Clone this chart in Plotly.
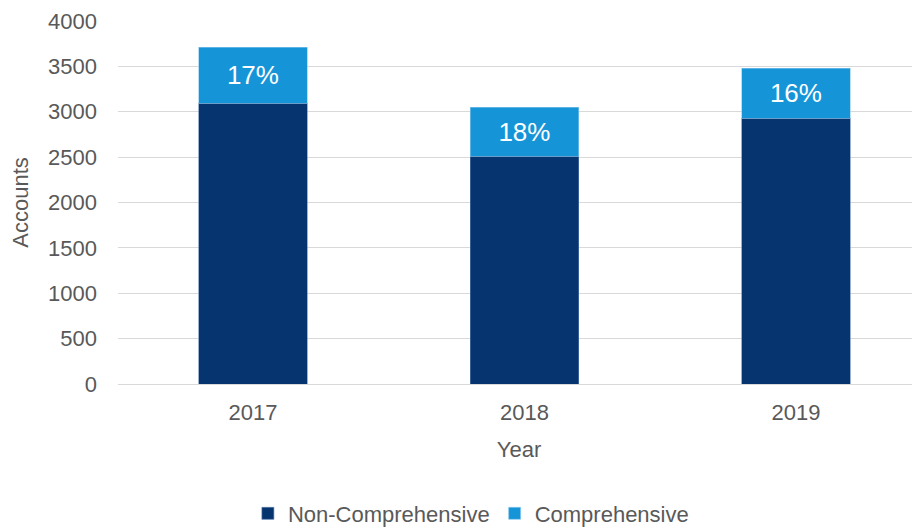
import plotly.graph_objects as go

years = ["2017", "2018", "2019"]
non_comprehensive = [3096, 2512, 2931]
comprehensive = [617, 540, 551]
pct_labels = ["17%", "18%", "16%"]

font_family = "Liberation Sans, Arial, sans-serif"
grey = "#595959"

fig = go.Figure()
fig.add_trace(go.Bar(
    x=years, y=non_comprehensive, name="Non-Comprehensive",
    marker=dict(color="#06346F", line=dict(color="#5a7fb0", width=0.6)),
    width=0.4,
))
fig.add_trace(go.Bar(
    x=years, y=comprehensive, name="Comprehensive",
    marker=dict(color="#1595D8", line=dict(color="#8cc8ec", width=0.6)),
    width=0.4,
    text=pct_labels, textposition="inside", insidetextanchor="middle",
    textfont=dict(color="white", size=26, family=font_family),
))

fig.update_layout(
    barmode="stack",
    width=912, height=521,
    margin=dict(l=110, r=0, t=13, b=145, autoexpand=False),
    paper_bgcolor="white", plot_bgcolor="white",
    font=dict(family=font_family, color=grey, size=22),
    showlegend=True,
    legend=dict(orientation="h", x=0.44, xanchor="center", y=-0.299, yanchor="top",
                font=dict(size=22, color=grey), traceorder="normal",
                itemwidth=30, tracegroupgap=0),
    xaxis=dict(
        range=[-0.497, 2.457], automargin=False,
        title=dict(text="Year", font=dict(size=22, color=grey), standoff=17),
        tickfont=dict(size=22, color=grey),
        showgrid=False, showline=True, linecolor="#d9d9d9", linewidth=1,
        ticks="", ticklabelstandoff=9,
    ),
    yaxis=dict(
        range=[0, 4000], dtick=500, automargin=False,
        title=dict(text="Accounts", font=dict(size=22, color=grey), standoff=17),
        tickfont=dict(size=22, color=grey),
        showgrid=True, gridcolor="#d9d9d9", gridwidth=1,
        zeroline=False, ticks="", ticklabelstandoff=20,
    ),
    uniformtext=dict(mode=False),
)

fig.write_html("out.html")
